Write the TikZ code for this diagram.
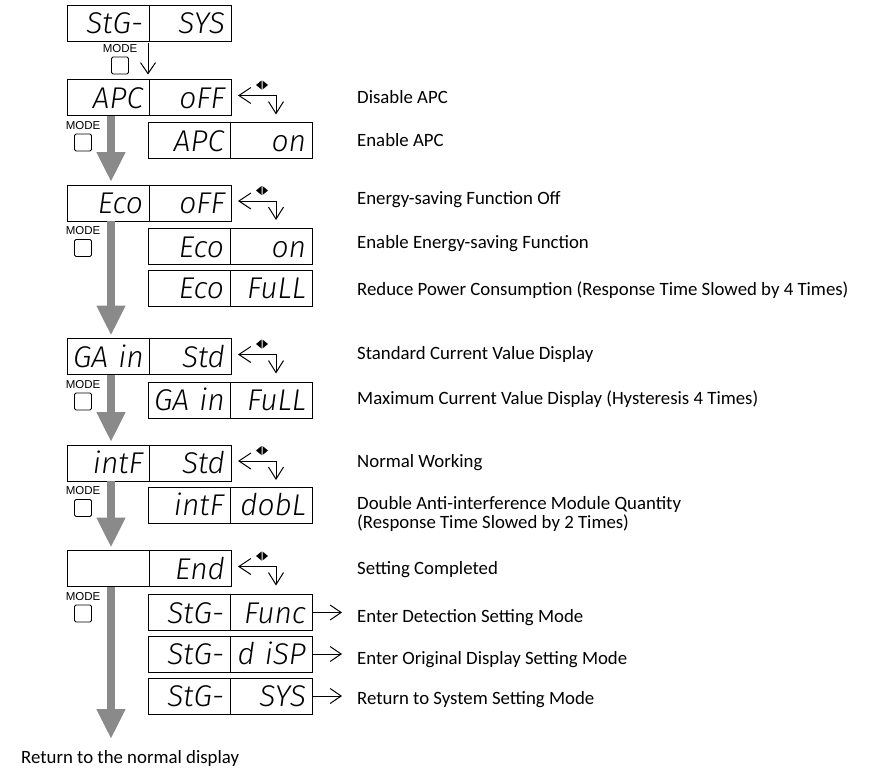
\documentclass[tikz,border=0pt]{standalone}
\usepackage{fontspec}
\setmainfont{Carlito}
\newfontfamily\carl{Carlito}
\IfFontExistsTF{Fira Sans Light Italic}{\newfontfamily\segfont{Fira Sans Light Italic}}{\newcommand\segfont{\carl\itshape}}
\newfontfamily\modefont{Liberation Sans}
\usetikzlibrary{arrows.meta,calc}
\definecolor{arrgray}{RGB}{138,138,138}
\newcommand\bisign[1]{%
  \draw[signline] ($(#1.east)+(7,-2)$) -- ++(38,0) -- ++(0,19);
  \fill ($(#1.east)+(25,-12.5)$) -- ++(5.5,-4.5) -- ++(0,9) -- cycle;
  \fill ($(#1.east)+(37,-12.5)$) -- ++(-5.5,-4.5) -- ++(0,9) -- cycle;
}
\newcommand\modekey[2]{%
  \node[modelabel] (#2l) at ($(#1.south)+(-25,10)$) {MODE};
  \node[modekeybox] (#2k) at ($(#1.south)+(-25,27)$) {};
}
\begin{document}
\begin{tikzpicture}[x=1pt,y=-1pt,
  seg/.style={draw, line width=1pt, outer sep=0pt, minimum height=36pt,
    inner xsep=6pt, inner ysep=0pt, text width=70pt, align=right,
    text height=21pt, text depth=0pt, anchor=north west,
    font=\segfont\fontsize{30}{30}\selectfont},
  desc/.style={anchor=base west, inner sep=0pt, font=\fontsize{18.8}{22}\selectfont},
  modelabel/.style={inner sep=0pt, font=\modefont\fontsize{11.5}{11.5}\selectfont},
  modekeybox/.style={draw, line width=0.9pt, rounded corners=1.5pt, minimum width=17pt, minimum height=17pt, inner sep=0pt},
  grayarr/.style={draw=arrgray, line width=8pt, -{Triangle[length=30pt,width=27pt]}},
  barb/.style={line width=1pt, -{Straight Barb[length=11pt,width=15pt]}},
  signline/.style={line width=1pt, {Straight Barb[length=12pt,width=16pt]}-{Straight Barb[length=12pt,width=15pt]}}
]
\useasboundingbox (0,0) rectangle (873,771);

% boxes: left column x=67, right column x=148
\node[seg] (a1) at (67,5) {StG-};      \node[seg] (a1r) at (a1.north east) {SYS};
\node[seg] (a2) at (67,79.5) {APC};    \node[seg] (a2r) at (a2.north east) {oFF};
\node[seg] (a3) at (148,122.5) {APC};  \node[seg] (a3r) at (a3.north east) {on};
\node[seg] (a4) at (67,185) {Eco};     \node[seg] (a4r) at (a4.north east) {oFF};
\node[seg] (a5) at (148,228.5) {Eco};  \node[seg] (a5r) at (a5.north east) {on};
\node[seg] (a6) at (148,270) {Eco};    \node[seg] (a6r) at (a6.north east) {FuLL};
\node[seg] (a7) at (67,338.5) {GA~in}; \node[seg] (a7r) at (a7.north east) {Std};
\node[seg] (a8) at (148,382) {GA~in};  \node[seg] (a8r) at (a8.north east) {FuLL};
\node[seg] (a9) at (67,445) {intF};    \node[seg] (a9r) at (a9.north east) {Std};
\node[seg] (a10) at (148,487) {intF};  \node[seg] (a10r) at (a10.north east) {dobL};
\node[seg] (a11) at (67,550.5) {};     \node[seg] (a11r) at (a11.north east) {End};
\node[seg] (a12) at (148,594.5) {StG-};\node[seg] (a12r) at (a12.north east) {Func};
\node[seg] (a13) at (148,636) {StG-};  \node[seg] (a13r) at (a13.north east) {d~iSP};
\node[seg] (a14) at (148,678) {StG-};  \node[seg] (a14r) at (a14.north east) {SYS};

% first mode key and thin arrow
\node[modelabel] (m0l) at (120,49) {MODE};
\node[modekeybox] (m0k) at (120,65.5) {};
\draw[barb] ($(a1.south east)+(-1,2)$) -- ($(a2.north east)+(-1,-5)$);

% selection signs
\bisign{a2r}
\bisign{a4r}
\bisign{a7r}
\bisign{a9r}
\bisign{a11r}

% gray flow arrows
\coordinate (endpt) at (111,739);
\draw[grayarr] ([xshift=3pt]a2.south) -- ([xshift=3pt,yshift=3pt]a4.north);
\draw[grayarr] ([xshift=3pt]a4.south) -- ([xshift=3pt,yshift=3pt]a7.north);
\draw[grayarr] ([xshift=3pt]a7.south) -- ([xshift=3pt,yshift=3pt]a9.north);
\draw[grayarr] ([xshift=3pt]a9.south) -- ([xshift=3pt,yshift=3pt]a11.north);
\draw[grayarr] ([xshift=3pt]a11.south) -- (endpt);

% mode keys
\modekey{a2}{m1}
\modekey{a4}{m2}
\modekey{a7}{m3}
\modekey{a9}{m4}
\modekey{a11}{m5}

% exit arrows
\coordinate (e12) at ($(a12r.east)+(30,0)$);
\coordinate (e13) at ($(a13r.east)+(30,0)$);
\coordinate (e14) at ($(a14r.east)+(30,0)$);
\draw[barb] (a12r.east) -- (e12);
\draw[barb] (a13r.east) -- (e13);
\draw[barb] (a14r.east) -- (e14);

% descriptions
\node[desc] (t1) at (357,103) {Disable APC};
\node[desc] (t2) at (357,146) {Enable APC};
\node[desc] (t3) at (357,204) {Energy-saving Function Off};
\node[desc] (t4) at (357,248) {Enable Energy-saving Function};
\node[desc] (t5) at (357,295) {Reduce Power Consumption (Response Time Slowed by 4 Times)};
\node[desc] (t6) at (357,359) {Standard Current Value Display};
\node[desc] (t7) at (357,404) {Maximum Current Value Display (Hysteresis 4 Times)};
\node[desc] (t8) at (357,467) {Normal Working};
\node[desc] (t9) at (357,509) {Double Anti-interference Module Quantity};
\node[desc] (t9b) at (357,528) {(Response Time Slowed by 2 Times)};
\node[desc] (t10) at (357,574) {Setting Completed};
\node[desc] (t11) at (357,622) {Enter Detection Setting Mode};
\node[desc] (t12) at (357,664) {Enter Original Display Setting Mode};
\node[desc] (t13) at (357,704) {Return to System Setting Mode};
\node[desc] (t14) at (21,763) {Return to the normal display};
\end{tikzpicture}
\end{document}
